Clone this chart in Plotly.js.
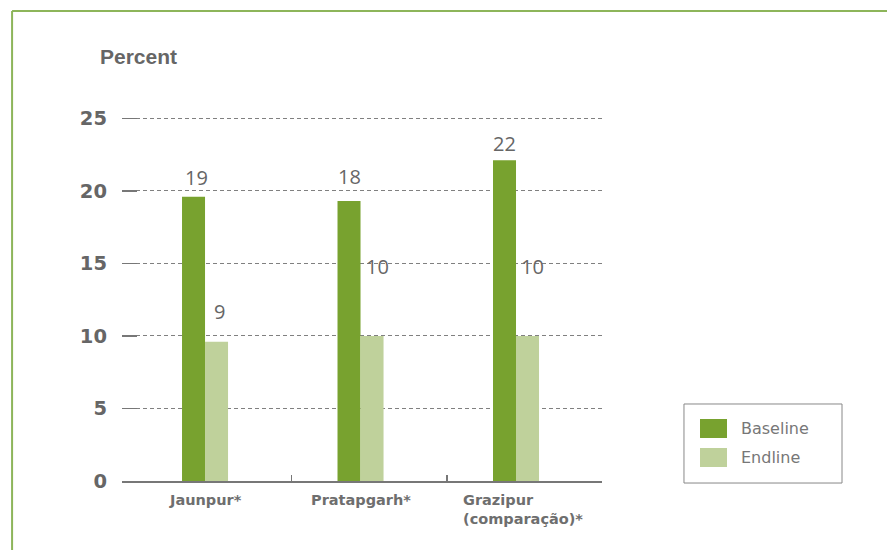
<!DOCTYPE html>
<html>
<head>
<meta charset="utf-8">
<script src="https://cdn.plot.ly/plotly-3.0.1.min.js"></script>
<style>html,body{margin:0;padding:0;background:#fff;}#chart{width:887px;height:550px;}</style>
</head>
<body>
<div id="chart"></div>
<script>
// ---- data ----
const categories = ["Jaunpur*", "Pratapgarh*", "Grazipur<br>(comparação)*"];
const seriesNames = ["Baseline", "Endline"];
const baselineValues = [19.6, 19.3, 22.1];
const endlineValues = [9.6, 10.0, 10.0];
const baselineLabels = ["19", "18", "22"];
const endlineLabels = ["9", "10", "10"];
const yTickValues = [0, 5, 10, 15, 20, 25];

// ---- styling ----
const colors = ["#78a22f", "#bfd19b"];
const textGray = "#666666";
const catIdx = categories.map((_, i) => i);
const barW = 0.148;
const baseLblShift = [4, 9, 1];
const endLblShift = [15, 54, 54];
const endLblX = [3, 5, 5];
const catLblX = [0, 0, 7];

const traces = [
  { type: "bar", name: seriesNames[0], x: catIdx, y: baselineValues,
    marker: { color: colors[0] }, hoverinfo: "y", showlegend: false },
  { type: "bar", name: seriesNames[1], x: catIdx, y: endlineValues,
    marker: { color: colors[1] }, hoverinfo: "y", showlegend: false }
];

const annotations = [];
catIdx.forEach(i => {
  annotations.push({ x: i - barW / 2, y: baselineValues[i], xref: "x", yref: "y",
    text: baselineLabels[i], showarrow: false, yanchor: "bottom", yshift: baseLblShift[i],
    xshift: i === 0 ? 3 : 0,
    font: { family: "Open Sans", size: 20, color: textGray } });
  annotations.push({ x: i + barW / 2, y: endlineValues[i], xref: "x", yref: "y",
    text: endlineLabels[i], showarrow: false, yanchor: "bottom", yshift: endLblShift[i],
    xshift: endLblX[i],
    font: { family: "Open Sans", size: 20, color: textGray } });
  annotations.push({ x: i, y: 0, xref: "x", yref: "paper", text: categories[i],
    showarrow: false, yanchor: "top", yshift: -9, xshift: catLblX[i], align: "left",
    font: { family: "DejaVu Sans", size: 14.5, color: "#6e6e6e", weight: "bold" } });
});
annotations.push({ x: -0.05, y: 1.113, xref: "paper", yref: "paper", text: "Percent",
  showarrow: false, xanchor: "left", yanchor: "middle",
  font: { family: "Liberation Sans", size: 21, color: "#666", weight: "bold" } });

// legend (manual box to match reference swatch sizes)
const legendRows = [0.1378, 0.0617];
seriesNames.forEach((n, k) => {
  annotations.push({ x: 1.2854, y: legendRows[k], xref: "paper", yref: "paper", text: n,
    showarrow: false, xanchor: "left", yanchor: "middle",
    font: { family: "DejaVu Sans", size: 16, color: "#777" } });
});

const shapes = [
  // outer frame
  { type: "line", xref: "paper", yref: "paper", x0: -0.229, x1: -0.229, y0: -0.25, y1: 1.2336,
    line: { color: "#8db55a", width: 2 } },
  { type: "line", xref: "paper", yref: "paper", x0: -0.229, x1: 1.65, y0: 1.2336, y1: 1.2336,
    line: { color: "#8db55a", width: 2 } },
  // legend box
  { type: "rect", xref: "paper", yref: "paper", x0: 1.1708, x1: 1.5, y0: -0.0053, y1: 0.2021,
    line: { color: "#888", width: 1 }, fillcolor: "rgba(0,0,0,0)" },
  { type: "rect", xref: "paper", yref: "paper", x0: 1.2042, x1: 1.2604, y0: 0.1129, y1: 0.1627,
    line: { width: 0 }, fillcolor: colors[0] },
  { type: "rect", xref: "paper", yref: "paper", x0: 1.2042, x1: 1.2604, y0: 0.0367, y1: 0.0866,
    line: { width: 0 }, fillcolor: colors[1] }
];

const bounds = catIdx.map(i => i + 0.555);

const layout = {
  width: 887, height: 550,
  margin: { l: 122, r: 285, t: 100, b: 69, pad: 0 },
  paper_bgcolor: "#fff", plot_bgcolor: "#fff",
  barmode: "group", bargap: 0.704, bargroupgap: 0,
  showlegend: false,
  xaxis: {
    type: "linear", range: [-0.534, 2.553], fixedrange: true,
    showgrid: false, zeroline: false, showline: true, linecolor: "#777", linewidth: 1.5,
    tickmode: "array", tickvals: bounds, ticktext: bounds.map(() => ""),
    ticks: "outside", ticklen: 11, tickwidth: 1.5, tickcolor: "#777",
    minor: { tickmode: "array", tickvals: bounds, ticks: "inside", ticklen: 6,
      tickwidth: 1.5, tickcolor: "#777", showgrid: false }
  },
  yaxis: {
    range: [0, 26.26], fixedrange: true,
    tickmode: "array", tickvals: yTickValues,
    showgrid: true, gridcolor: "#808080", gridwidth: 1, griddash: "4px,3px",
    zeroline: false, showline: false,
    ticks: "inside", ticklen: 15, tickwidth: 1.5, tickcolor: "#777",
    ticklabelstandoff: 14,
    tickfont: { family: "DejaVu Sans", size: 19.5, color: textGray, weight: "bold" }
  },
  annotations: annotations,
  shapes: shapes
};

Plotly.newPlot("chart", traces, layout, { displayModeBar: false, staticPlot: true });
</script>
</body>
</html>
